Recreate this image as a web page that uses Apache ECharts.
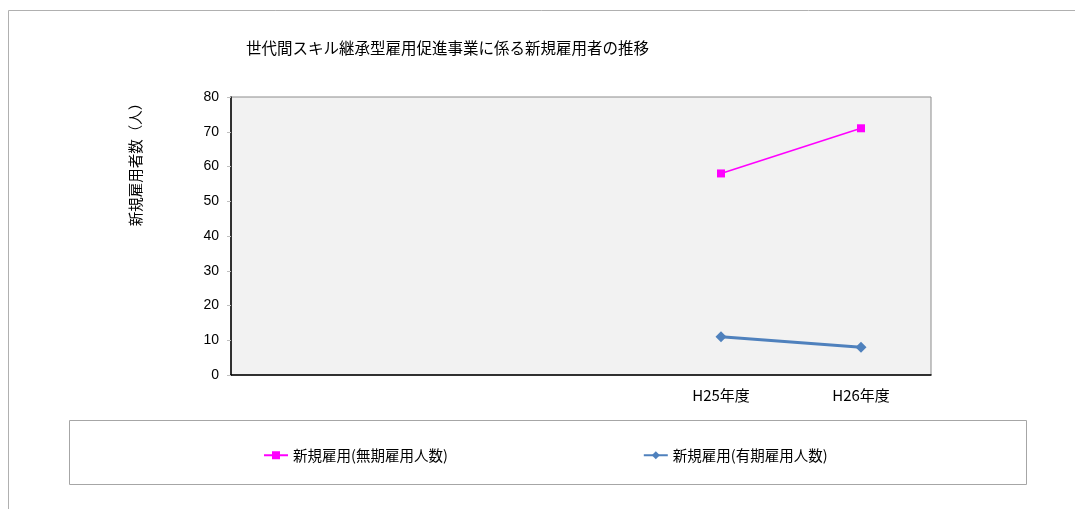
<!DOCTYPE html>
<html>
<head>
<meta charset="utf-8">
<script src="https://cdn.jsdelivr.net/npm/echarts@6/dist/echarts.min.js"></script>
<style>
html,body{margin:0;padding:0;background:#fff;}
#chart{width:1075px;height:509px;}
</style>
</head>
<body>
<div id="chart"></div>
<script>
// 年度カテゴリ（先頭3枠は空欄）
const categories = ['', '', '', 'H25年度', 'H26年度'];
// 新規雇用者数（人）
const mukiValues = ['-', '-', '-', 58, 71];   // 無期雇用人数
const yukiValues = ['-', '-', '-', 11, 8];    // 有期雇用人数
const seriesNames = ['新規雇用(無期雇用人数)', '新規雇用(有期雇用人数)'];
const titleText = '世代間スキル継承型雇用促進事業に係る新規雇用者の推移';
const yAxisName = '新規雇用者数（人）';

const font = '"Noto Sans CJK JP", "Noto Sans", sans-serif';
const chart = echarts.init(document.getElementById('chart'), null, {renderer: 'canvas'});

chart.setOption({
  backgroundColor: '#fff',
  animation: false,
  textStyle: {fontFamily: font, color: '#000'},
  title: {
    text: titleText,
    left: 241, top: 35,
    textStyle: {fontSize: 15.5, fontWeight: 'normal', color: '#000', fontFamily: font}
  },
  graphic: [
    {type: 'polyline', shape: {points: [[8.5, 509], [8.5, 10.5], [1075, 10.5]]},
     style: {stroke: '#b0b0b0', lineWidth: 1, fill: null}},
    {type: 'rect', shape: {x: 69.5, y: 420.5, width: 957, height: 64},
     style: {stroke: '#a6a6a6', lineWidth: 1, fill: '#fff'}, z: -1}
  ],
  grid: {
    left: 231, right: 144, top: 97, bottom: 134,
    show: true, backgroundColor: '#f2f2f2', borderColor: '#8c8c8c', borderWidth: 1
  },
  legend: {
    data: seriesNames,
    left: 258, top: 443,
    itemGap: 195,
    itemWidth: 24, itemHeight: 10,
    textStyle: {fontSize: 14.5, color: '#000', fontFamily: font}
  },
  xAxis: {
    type: 'category',
    data: categories,
    boundaryGap: true,
    axisLine: {lineStyle: {color: '#000', width: 1.5}},
    axisTick: {inside: true, length: 5, lineStyle: {color: '#bfbfbf'}},
    axisLabel: {fontSize: 15, color: '#000', margin: 13, fontFamily: font}
  },
  yAxis: {
    type: 'value',
    min: 0, max: 80, interval: 10,
    name: yAxisName,
    nameLocation: 'middle',
    nameRotate: 90,
    nameGap: 88,
    nameTextStyle: {fontSize: 14.5, color: '#000', fontFamily: font, padding: [0, 0, 0, 150]},
    axisLine: {show: true, lineStyle: {color: '#000', width: 1.5}},
    axisTick: {show: true, length: 4, lineStyle: {color: '#bfbfbf'}},
    axisLabel: {fontSize: 14, color: '#000', margin: 12, fontFamily: 'Arial, "Liberation Sans", sans-serif'},
    splitLine: {show: false}
  },
  series: [
    {
      name: seriesNames[0], type: 'line', data: mukiValues,
      symbol: 'rect', symbolSize: 8,
      lineStyle: {color: '#ff00ff', width: 1.5},
      itemStyle: {color: '#ff00ff'}
    },
    {
      name: seriesNames[1], type: 'line', data: yukiValues,
      symbol: 'diamond', symbolSize: 11,
      lineStyle: {color: '#4f81bd', width: 3},
      itemStyle: {color: '#4f81bd'}
    }
  ]
});
</script>
</body>
</html>
